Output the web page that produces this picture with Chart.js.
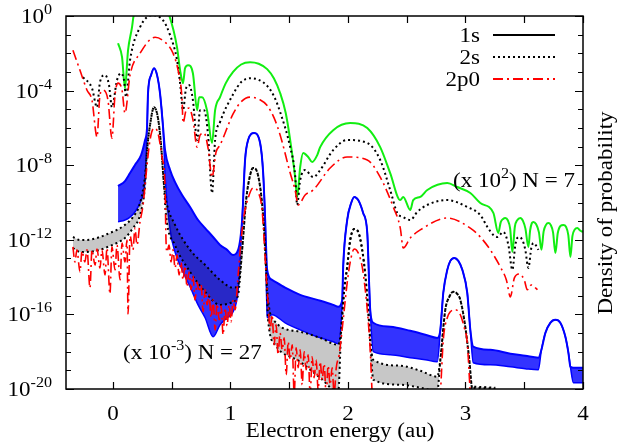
<!DOCTYPE html>
<html>
<head>
<meta charset="utf-8">
<script src="https://cdn.jsdelivr.net/npm/chart.js@4.4.0/dist/chart.umd.min.js"></script>
<style>
  body { margin: 0; background: #fff; }
</style>
</head>
<body>
<canvas id="chart" width="623" height="445"></canvas>
<script>
// values are [energy (au), log10 density]; bands are [energy, log10 top, log10 bottom]
const green7 = [
  [0.043,-1.46],[0.077,-2.21],[0.102,-3.87],[0.128,-1.84],[0.162,-0.6],[0.175,0.0],[0.23,0.6],[0.33,0.9],
  [0.43,0.6],[0.48,0.0],[0.545,-1.68],[0.571,-2.9],[0.596,-3.6],[0.613,-2.8],[0.639,-2.64],[0.68,-3.07],
  [0.716,-5.05],[0.733,-4.35],[0.758,-4.35],[0.80,-5.05],[0.843,-6.81],[0.869,-5.05],[0.911,-4.35],
  [0.96,-3.6],[1.022,-3.0],[1.09,-2.6],[1.167,-2.48],[1.24,-2.56],[1.312,-2.85],[1.37,-3.35],[1.423,-4.14],
  [1.47,-5.2],[1.508,-6.65],[1.55,-8.64],[1.567,-9.71],
  [1.593,-8.1],[1.618,-7.35],[1.661,-7.56],[1.695,-7.83],[1.738,-7.46],[1.763,-7.03],[1.874,-6.12],
  [2.019,-5.74],[2.164,-6.01],[2.274,-7.03],[2.359,-8.42],[2.445,-9.87],[2.47,-9.7],[2.53,-10.4],
  [2.555,-9.87],[2.615,-9.7],[2.675,-9.33],[2.845,-8.96],[2.93,-9.17],[3.041,-9.49],[3.126,-10.03],
  [3.237,-10.56],[3.279,-11.63],[3.30,-11.05],[3.32,-10.88],[3.339,-10.83],[3.36,-10.95],[3.38,-11.4],
  [3.399,-12.65],[3.42,-11.3],[3.44,-10.95],[3.467,-10.83],[3.49,-11.0],[3.51,-11.4],[3.535,-12.38],
  [3.55,-11.5],[3.565,-11.1],[3.578,-11.04],[3.60,-11.15],[3.625,-11.6],[3.646,-12.54],[3.665,-11.55],
  [3.685,-11.2],[3.705,-11.1],[3.725,-11.2],[3.745,-11.6],[3.765,-12.71],[3.785,-11.65],[3.81,-11.25],
  [3.833,-11.2],[3.855,-11.3],[3.875,-11.75],[3.893,-12.92],[3.91,-11.8],[3.93,-11.45],[3.952,-11.37],
  [3.975,-11.5],[4.0,-11.58]
];

const black7 = [
  [-0.256,-3.28],[-0.179,-3.87],[-0.136,-4.89],[-0.111,-3.55],[-0.068,-3.17],[-0.034,-3.7],[-0.009,-4.89],
  [0.034,-3.44],[0.068,-3.07],[0.094,-3.44],[0.111,-4.35],[0.145,-2.37],[0.23,-0.6],[0.332,0.04],
  [0.426,-0.23],[0.486,-1.03],[0.545,-2.37],[0.571,-3.6],[0.596,-5.05],[0.622,-3.87],[0.647,-3.7],
  [0.68,-4.51],[0.716,-6.65],[0.741,-5.05],[0.775,-5.05],[0.809,-6.39],[0.843,-9.49],[0.869,-6.65],
  [0.911,-5.69],[1.022,-4.2],[1.09,-3.55],[1.167,-3.34],[1.24,-3.42],[1.312,-3.75],[1.37,-4.3],[1.423,-5.16],
  [1.508,-7.03],[1.55,-8.53],
  [1.567,-10.13],[1.593,-8.8],[1.635,-8.26],[1.704,-8.64],[1.763,-8.26],[1.874,-7.19],[1.993,-6.65],
  [2.164,-6.81],[2.274,-7.72],[2.359,-9.33],[2.419,-10.56],[2.47,-10.78],[2.53,-10.94],[2.589,-10.51],
  [2.675,-10.13],[2.845,-9.87],[3.015,-10.24],[3.126,-10.67],[3.186,-11.31],[3.237,-11.74],[3.271,-11.85],
  [3.322,-11.58],[3.365,-12.28],[3.399,-13.61],[3.424,-12.28],[3.45,-11.85],[3.484,-12.01],[3.509,-12.54],
  [3.535,-13.51],[3.56,-12.44],[3.578,-12.17],[3.603,-12.33],[3.62,-12.54]
];

const red7 = [
  [-0.341,-1.84],[-0.281,-2.91],[-0.221,-3.98],[-0.179,-4.51],[-0.136,-6.49],[-0.111,-4.24],[-0.085,-3.98],
  [-0.043,-4.51],[-0.009,-6.55],[0.017,-4.24],[0.043,-3.6],[0.077,-3.98],[0.102,-5.21],[0.145,-3.17],
  [0.23,-2.0],[0.358,-1.14],[0.443,-1.41],[0.511,-2.0],[0.562,-3.17],[0.588,-4.51],[0.596,-5.74],
  [0.622,-5.05],[0.647,-4.94],[0.681,-5.58],[0.716,-7.03],[0.741,-6.39],[0.775,-6.28],[0.809,-7.08],
  [0.843,-8.64],[0.877,-7.3],[0.911,-6.92],[1.022,-5.25],[1.09,-4.6],[1.167,-4.35],[1.24,-4.45],[1.312,-4.8],
  [1.37,-5.45],[1.423,-6.39],
  [1.508,-8.42],[1.55,-9.33],[1.576,-10.13],[1.635,-9.6],[1.704,-9.33],[1.848,-8.15],[1.993,-7.56],
  [2.164,-7.72],[2.274,-8.64],[2.385,-10.24],[2.445,-11.37],[2.47,-12.44],[2.53,-11.9],[2.615,-11.47],
  [2.845,-10.83],[3.041,-11.37],[3.126,-11.85],[3.211,-12.54],[3.296,-13.45],[3.348,-14.15],[3.382,-15.06],
  [3.416,-14.04],[3.458,-13.83],[3.50,-14.15],[3.526,-14.68],[3.56,-14.42],[3.578,-14.47],[3.612,-14.68]
];

const blue27 = [
  [0.043,-9.12,-11.04],[0.102,-8.85,-10.94],[0.145,-8.42,-10.78],[0.187,-7.99,-10.51],[0.239,-7.46,-9.87],
  [0.273,-6.65,-8.80],[0.290,-5.96,-5.96],[0.298,-4.14,-4.14],[0.324,-3.17,-3.17],[0.349,-2.80,-2.80],
  [0.375,-3.17,-3.17],[0.400,-4.14,-4.14],[0.426,-5.96,-5.96],[0.443,-7.19,-8.53],[0.486,-8.26,-11.47],
  [0.528,-8.91,-12.65],[0.588,-9.60,-13.61],[0.656,-10.24,-14.52],[0.724,-10.94,-15.49],[0.784,-11.37,-16.18],
  [0.852,-11.85,-17.20],[0.911,-12.28,-16.56],[0.971,-12.54,-16.18],[1.022,-12.81,-15.86],[1.065,-12.54,-14.68],
  [1.099,-10.94,-10.94],[1.124,-7.72,-7.72],[1.150,-6.65,-6.65],[1.201,-6.28,-6.28],[1.252,-6.81,-6.81],
  [1.278,-8.42,-8.42],[1.295,-10.94,-10.94],[1.312,-13.61,-16.18],[1.354,-14.15,-16.02],[1.465,-14.57,-16.45],
  [1.593,-14.95,-16.83],[1.738,-15.22,-17.20],[1.874,-15.49,-17.47],[1.917,-15.59,-17.58],[1.951,-15.22,-15.22],
  [1.959,-13.45,-13.45],[1.993,-10.94,-10.94],[2.027,-10.03,-10.03],[2.053,-9.70,-9.70],[2.087,-9.87,-9.87],
  [2.129,-10.56,-10.56],[2.164,-11.63,-11.63],[2.189,-15.75,-15.75],[2.215,-16.45,-18.00],[2.360,-16.66,-18.16],
  [2.530,-16.88,-18.32],[2.658,-17.09,-18.43],[2.760,-17.26,-18.54],[2.786,-16.83,-16.83],[2.811,-14.84,-14.84],
  [2.845,-13.61,-13.61],[2.871,-13.13,-13.13],[2.905,-12.97,-12.97],[2.939,-13.13,-13.13],[2.973,-13.61,-13.61],
  [3.015,-14.84,-14.84],[3.041,-16.83,-16.83],[3.066,-17.73,-18.59],[3.211,-17.90,-18.70],[3.382,-18.11,-18.81],
  [3.509,-18.22,-18.91],[3.620,-18.32,-18.97],[3.646,-17.90,-17.90],[3.680,-16.99,-16.99],[3.722,-16.45,-16.45],
  [3.765,-16.29,-16.29],[3.807,-16.45,-16.45],[3.850,-17.20,-17.20],[3.876,-18.06,-18.06],[3.893,-18.81,-18.81],
  [3.918,-18.86,-19.66],[4.0,-18.86,-19.66]
];

const black27 = [
  [-0.341,-11.85,-12.44],[-0.281,-12.01,-12.65],[-0.221,-12.01,-12.65],[-0.111,-11.85,-12.54],
  [-0.026,-11.63,-12.33],[0.034,-11.47,-12.17],[0.102,-11.20,-11.90],[0.170,-10.78,-11.37],[0.230,-10.03,-10.67],
  [0.273,-8.53,-9.06],[0.290,-7.19,-7.19],[0.315,-5.85,-5.85],[0.349,-4.89,-4.89],[0.383,-5.48,-5.48],
  [0.409,-6.92,-6.92],[0.434,-9.06,-9.06],[0.451,-9.87,-10.67],[0.528,-11.20,-12.28],[0.656,-12.54,-13.72],
  [0.784,-13.35,-14.79],[0.911,-14.15,-15.49],[1.022,-14.57,-15.33],[1.065,-14.42,-14.95],[1.099,-12.54,-12.54],
  [1.133,-9.87,-9.87],[1.167,-8.53,-8.53],[1.193,-8.15,-8.15],[1.227,-8.37,-8.37],[1.261,-9.60,-9.60],
  [1.286,-11.47,-11.47],[1.303,-13.61,-13.61],[1.320,-15.22,-16.29],[1.380,-16.40,-17.63],[1.593,-16.93,-18.54],
  [1.763,-17.26,-19.40],[1.917,-17.63,-20.15],[1.942,-16.83,-16.83],[1.968,-14.68,-14.68],[1.993,-13.45,-13.45],
  [2.019,-12.01,-12.01],[2.053,-11.42,-11.42],[2.087,-11.58,-11.58],[2.121,-12.54,-12.54],[2.147,-13.88,-13.88],
  [2.172,-15.75,-15.75],[2.189,-17.36,-17.36],[2.215,-18.43,-19.50],[2.445,-18.75,-19.77],[2.615,-19.02,-19.93],
  [2.760,-19.34,-20.10],[2.786,-18.43,-18.43],[2.828,-15.75,-15.75],[2.862,-15.06,-15.06],[2.896,-14.79,-14.79],
  [2.930,-14.90,-14.90],[2.956,-15.22,-15.22],[2.998,-16.66,-16.66],[3.032,-18.43,-18.43],[3.058,-19.98,-19.98],
  [3.066,-19.88,-19.95],[3.254,-19.93,-19.98]
];

const red27 = [
  [-0.341,-12.38],[-0.324,-13.19],[-0.307,-12.54],[-0.281,-13.72],[-0.264,-12.60],[-0.239,-13.19],[-0.221,-12.54],
  [-0.196,-14.58],[-0.179,-12.54],[-0.153,-13.35],[-0.136,-12.49],[-0.111,-13.51],[-0.094,-12.54],[-0.068,-13.88],
  [-0.051,-12.44],[-0.026,-14.90],[-0.009,-12.38],[0.017,-13.61],[0.034,-12.28],[0.060,-14.15],[0.077,-12.17],
  [0.102,-13.19],[0.119,-12.01],[0.128,-15.97],[0.145,-11.79],[0.170,-12.54],[0.187,-11.37],[0.204,-12.28],
  [0.230,-11.04],[0.256,-10.13],[0.281,-8.53],[0.315,-6.65],[0.349,-6.01],[0.383,-6.28],[0.417,-7.56],
  [0.443,-9.17],[0.451,-12.01],[0.460,-12.65],[0.477,-12.28],[0.494,-13.19],[0.511,-12.54],[0.528,-13.51],
  [0.545,-12.81],[0.562,-13.88],[0.579,-13.19],[0.596,-14.15],[0.613,-13.40],[0.630,-14.52],[0.647,-13.72],
  [0.664,-14.68],[0.681,-13.93],[0.698,-15.22],[0.716,-14.26],[0.733,-14.79],[0.750,-14.42],[0.767,-15.86],
  [0.784,-14.68],[0.801,-15.49],[0.818,-14.95],[0.835,-16.18],[0.852,-15.22],[0.869,-16.83],[0.886,-15.43],
  [0.903,-16.29],[0.920,-15.54],[0.937,-17.09],[0.954,-15.65],[0.971,-16.61],[0.988,-15.49],[1.005,-16.40],
  [1.022,-15.22],[1.039,-15.75],[1.065,-13.88],[1.090,-12.01],[1.116,-10.67],[1.150,-9.76],[1.193,-9.22],
  [1.235,-9.44],[1.269,-10.40],[1.286,-12.01],[1.303,-13.88],[1.320,-15.38],[1.337,-16.83],[1.354,-16.02],
  [1.371,-17.63],[1.388,-16.56],[1.405,-18.16],[1.422,-16.99],[1.440,-17.90],[1.457,-17.26],[1.474,-19.24],
  [1.491,-17.47],[1.508,-18.43],[1.525,-17.63],[1.542,-20.30],[1.559,-17.79],[1.576,-18.86],[1.593,-17.90],
  [1.610,-19.77],[1.627,-18.00],[1.644,-18.97],[1.661,-18.16],[1.678,-20.30],[1.695,-18.27],[1.712,-19.40],
  [1.729,-18.43],[1.746,-20.04],[1.763,-18.54],[1.780,-19.50],[1.797,-18.64],[1.814,-20.30],[1.831,-18.75],
  [1.848,-19.77],[1.865,-18.86],[1.882,-20.30],[1.900,-18.86],[1.925,-18.16],[1.959,-16.29],[1.993,-14.31],
  [2.019,-13.19],[2.053,-12.49],[2.087,-12.70],[2.121,-13.45],[2.147,-14.68],[2.164,-15.75],[2.189,-17.90],
  [2.206,-20.30],[2.232,-22.7],[2.760,-22.7],[2.786,-20.30],[2.811,-17.36],[2.845,-16.18],[2.871,-15.86],
  [2.913,-15.75],[2.956,-16.02],[2.990,-16.72],[3.015,-17.52],[3.041,-20.30],[3.066,-22.7]
];

const legendLabels = ['1s', '2s', '2p0'];
const xTickMarks = [0, 0.5, 1, 1.5, 2, 2.5, 3, 3.5, 4];
const xTickLabels = ['0', '1', '2', '3', '4'];
const yTickExponents = [0, -4, -8, -12, -16, -20];
const xTitle = 'Electron energy (au)';
const yTitle = 'Density of probability';

const FONT = '"Liberation Serif", "Times New Roman", serif';
const STRETCH = 1.15;
const SIZE = 20;
const SUP = 14;

function pts(rows, col) {
  return rows.map(r => ({ x: r[0], y: Math.pow(10, r[col]) }));
}

function textW(ctx, s, size) {
  ctx.font = size + 'px ' + FONT;
  return ctx.measureText(s).width * STRETCH;
}

function putText(ctx, s, x, y, size) {
  ctx.save();
  ctx.font = size + 'px ' + FONT;
  ctx.translate(x, y);
  ctx.scale(STRETCH, 1);
  ctx.textAlign = 'left';
  ctx.textBaseline = 'alphabetic';
  ctx.fillText(s, 0, 0);
  ctx.restore();
}

// parts: [text, superscript?]
function richText(ctx, parts, x, y, align) {
  const w = parts.map(p => textW(ctx, p[0], p[1] ? SUP : SIZE));
  const total = w.reduce((a, b) => a + b, 0);
  let cx = align === 'right' ? x - total : align === 'center' ? x - total / 2 : x;
  parts.forEach((p, i) => {
    putText(ctx, p[0], cx, p[1] ? y - 9 : y, p[1] ? SUP : SIZE);
    cx += w[i];
  });
}

const framePlugin = {
  id: 'frame',
  afterDraw(chart) {
    const ctx = chart.ctx;
    const a = chart.chartArea;
    const xs = chart.scales.x, ys = chart.scales.y;
    ctx.save();
    ctx.strokeStyle = '#000';
    ctx.fillStyle = '#000';
    ctx.lineWidth = 1.5;
    ctx.strokeRect(a.left, a.top, a.right - a.left, a.bottom - a.top);

    ctx.lineWidth = 1.2;
    ctx.beginPath();
    xTickMarks.forEach(v => {
      const px = Math.round(xs.getPixelForValue(v)) + 0.5;
      ctx.moveTo(px, a.bottom); ctx.lineTo(px, a.bottom - 7);
      ctx.moveTo(px, a.top); ctx.lineTo(px, a.top + 7);
    });
    for (let e = -20; e <= 0; e++) {
      const py = Math.round(ys.getPixelForValue(Math.pow(10, e))) + 0.5;
      const len = yTickExponents.includes(e) ? 8 : 5;
      ctx.moveTo(a.left, py); ctx.lineTo(a.left + len, py);
      ctx.moveTo(a.right, py); ctx.lineTo(a.right - len, py);
    }
    ctx.stroke();

    // tick labels
    xTickLabels.forEach(t => {
      const px = xs.getPixelForValue(parseFloat(t));
      richText(ctx, [[t, false]], px, a.bottom + 31, 'center');
    });
    yTickExponents.forEach(e => {
      const py = ys.getPixelForValue(Math.pow(10, e));
      richText(ctx, [['10', false], [String(e), true]], 52, py + 7, 'right');
    });

    // axis titles
    richText(ctx, [[xTitle, false]], 340, 437, 'center');
    ctx.save();
    ctx.translate(612, 213);
    ctx.rotate(-Math.PI / 2);
    richText(ctx, [[yTitle, false]], 0, 0, 'center');
    ctx.restore();

    // key
    const styles = [
      { color: '#000', dash: [] },
      { color: '#000', dash: [2, 3] },
      { color: '#ff0000', dash: [10, 4, 2, 4] }
    ];
    legendLabels.forEach((lab, i) => {
      const y = 35 + i * 22;
      richText(ctx, [[lab, false]], 480, y + 7, 'right');
      ctx.save();
      ctx.strokeStyle = styles[i].color;
      ctx.setLineDash(styles[i].dash);
      ctx.lineWidth = 2;
      ctx.beginPath();
      ctx.moveTo(493, y); ctx.lineTo(555, y);
      ctx.stroke();
      ctx.restore();
    });

    // scale labels
    richText(ctx, [['(x 10', false], ['2', true], [') N = 7', false]], 453, 187, 'left');
    richText(ctx, [['(x 10', false], ['-3', true], [') N = 27', false]], 123, 359, 'left');
    ctx.restore();
  }
};

const common = { pointRadius: 0, cubicInterpolationMode: 'monotone', clip: 0, fill: false, borderJoinStyle: 'round' };

new Chart(document.getElementById('chart'), {
  type: 'line',
  data: {
    datasets: [
      Object.assign({ label: '1s N=7', data: pts(green7, 1), borderColor: '#11ee11', borderWidth: 2, order: 6 }, common),
      Object.assign({ label: '2s N=7', data: pts(black7, 1), borderColor: '#000', borderWidth: 2, borderDash: [2, 3], order: 5 }, common),
      Object.assign({ label: '2p0 N=7', data: pts(red7, 1), borderColor: '#ff0000', borderWidth: 1.6, borderDash: [10, 4, 2, 4], order: 4 }, common),
      Object.assign({ label: '1s N=27', data: pts(blue27, 1), borderColor: '#0000ff', borderWidth: 2, order: 3 }, common),
      Object.assign({}, common, { label: '1s N=27 low', data: pts(blue27, 2), borderColor: '#0000ff', borderWidth: 1.5,
        fill: 3, backgroundColor: 'rgba(0,0,255,0.8)', order: 3 }),
      Object.assign({ label: '2s N=27', data: pts(black27, 1), borderColor: '#000', borderWidth: 2, borderDash: [2, 3], order: 2 }, common),
      Object.assign({}, common, { label: '2s N=27 low', data: pts(black27, 2), borderColor: '#000', borderWidth: 2, borderDash: [2, 3],
        fill: 5, backgroundColor: 'rgba(0,0,0,0.22)', order: 2 }),
      Object.assign({ label: '2p0 N=27', data: pts(red27, 1), borderColor: '#ff0000', borderWidth: 1.6, borderDash: [10, 4, 2, 4], order: 1 }, common)
    ]
  },
  options: {
    responsive: false,
    animation: false,
    devicePixelRatio: 1,
    layout: { padding: { top: 16, right: 40, left: 0, bottom: 0 } },
    plugins: { legend: { display: false }, tooltip: { enabled: false } },
    scales: {
      x: {
        type: 'linear', min: -0.4, max: 4,
        grid: { display: false }, border: { display: false }, ticks: { display: false },
        afterFit: s => { s.height = 56; }
      },
      y: {
        type: 'logarithmic', min: 1e-20, max: 1,
        grid: { display: false }, border: { display: false }, ticks: { display: false },
        afterFit: s => { s.width = 66; }
      }
    }
  },
  plugins: [framePlugin]
});
</script>
</body>
</html>
